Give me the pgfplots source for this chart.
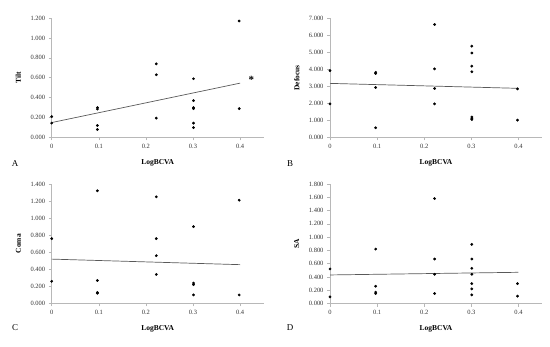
\documentclass[border=0pt]{standalone}
\usepackage{pgfplots}
\pgfplotsset{compat=1.18}
\usepackage{fontspec}
\setmainfont{Liberation Serif}
\definecolor{axgray}{gray}{0.72}
\definecolor{trend}{gray}{0.35}
\pgfplotsset{
  panel/.style={
    scale only axis,
    width=212bp, height=119.5bp,
    xmin=0, xmax=0.45, ymin=0,
    axis lines*=left,
    axis line style={axgray, line width=0.5pt},
    tick style={axgray, line width=0.5pt},
    major tick length=3bp,
    tick align=outside,
    xtick={0,0.1,0.2,0.3,0.4},
    xticklabels={0,0.1,0.2,0.3,0.4},
    yticklabel style={/pgf/number format/.cd, fixed, fixed zerofill, precision=3, assume math mode=true},
    tick label style={font=\fontsize{6.5}{7}\selectfont, text=black!80},
    xlabel={LogBCVA},
    xlabel style={font=\fontsize{7.5}{8}\selectfont\bfseries, at={(axis description cs:0.5,0)}, yshift=-25bp, anchor=center},
    ylabel style={font=\fontsize{7.5}{8}\selectfont\bfseries, at={(axis description cs:-0.157,0.5)}, rotate=0, anchor=center},
    clip=false,
  },
  pts/.style={only marks, mark=*, mark size=1.2bp, black},
  tl/.style={no marks, trend, line width=0.7pt},
}
\begin{document}
\begin{tikzpicture}
\path[use as bounding box] (0,0) rectangle (550bp,347bp);
% A: Tilt
\begin{axis}[panel, at={(51.7bp,209.5bp)}, anchor=south west, ymax=1.2, ytick={0,0.2,...,1.2}, ylabel={Tilt}]
\addplot[pts] coordinates {
(0,0.21) (0,0.145)
(0.097,0.30) (0.097,0.285) (0.097,0.12) (0.097,0.08)
(0.222,0.74) (0.222,0.63) (0.222,0.195)
(0.301,0.59) (0.301,0.37) (0.301,0.30) (0.301,0.29) (0.301,0.145) (0.301,0.10)
(0.398,1.17) (0.398,0.29)};
\addplot[tl] coordinates {(0,0.15) (0.4,0.546)};
\node[font=\fontsize{11}{11}\selectfont\bfseries] at (axis cs:0.424,0.575) {*};
\end{axis}
% B: Defocus
\begin{axis}[panel, at={(330bp,209.5bp)}, anchor=south west, ymax=7, ytick={0,1,...,7}, ylabel={Defocus}]
\addplot[pts] coordinates {
(0,3.92) (0,1.97)
(0.097,3.82) (0.097,3.75) (0.097,2.93) (0.097,0.57)
(0.222,6.62) (0.222,4.02) (0.222,2.87) (0.222,1.97)
(0.301,5.35) (0.301,4.95) (0.301,4.18) (0.301,3.85) (0.301,1.20) (0.301,1.10) (0.301,1.05)
(0.398,2.85) (0.398,1.02)};
\addplot[tl] coordinates {(0,3.17) (0.4,2.88)};
\end{axis}
% C: Coma
\begin{axis}[panel, at={(51.7bp,43.5bp)}, anchor=south west, ymax=1.4, ytick={0,0.2,...,1.4}, ylabel={Coma}]
\addplot[pts] coordinates {
(0,0.76) (0,0.26)
(0.097,1.32) (0.097,0.27) (0.097,0.13) (0.097,0.12)
(0.222,1.25) (0.222,0.76) (0.222,0.56) (0.222,0.34)
(0.301,0.90) (0.301,0.24) (0.301,0.22) (0.301,0.10)
(0.398,1.21) (0.398,0.10)};
\addplot[tl] coordinates {(0,0.52) (0.4,0.455)};
\end{axis}
% D: SA
\begin{axis}[panel, at={(330bp,43.5bp)}, anchor=south west, ymax=1.8, ytick={0,0.2,...,1.8}, ylabel={SA}]
\addplot[pts] coordinates {
(0,0.52) (0,0.10)
(0.097,0.82) (0.097,0.26) (0.097,0.17) (0.097,0.15)
(0.222,1.58) (0.222,0.67) (0.222,0.44) (0.222,0.15)
(0.301,0.89) (0.301,0.67) (0.301,0.53) (0.301,0.44) (0.301,0.30) (0.301,0.22) (0.301,0.13)
(0.398,0.30) (0.398,0.11)};
\addplot[tl] coordinates {(0,0.43) (0.4,0.47)};
\end{axis}
\node[font=\fontsize{9}{9}\selectfont] at (15bp,183bp) {A};
\node[font=\fontsize{9}{9}\selectfont] at (290bp,183bp) {B};
\node[font=\fontsize{9}{9}\selectfont] at (15bp,19bp) {C};
\node[font=\fontsize{9}{9}\selectfont] at (290bp,19bp) {D};
\end{tikzpicture}
\end{document}
